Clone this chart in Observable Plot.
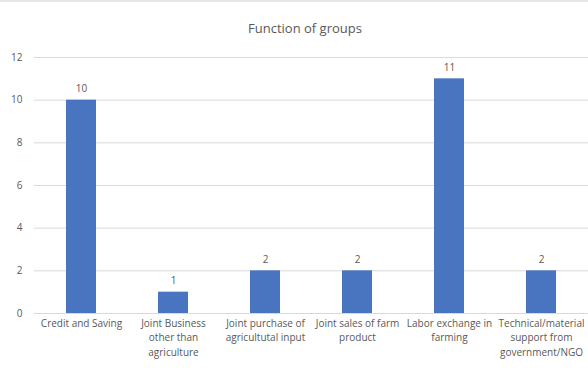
<!DOCTYPE html>
<html>
<head>
<meta charset="utf-8">
<script src="https://cdn.jsdelivr.net/npm/d3@7"></script>
<script src="https://cdn.jsdelivr.net/npm/@observablehq/plot@0.6"></script>
<style>
  html, body { margin: 0; padding: 0; background: #fff; }
  #wrap { width: 588px; height: 378px; position: relative; border-top: 2px solid #e6e6e6; box-sizing: border-box; }
  #title { height: 43px; line-height: 52px; text-align: center; padding-left: 22px;
           font-family: "Open Sans", sans-serif; font-size: 13px; color: #595959; }
  svg { display: block; }
</style>
</head>
<body>
<div id="wrap">
  <div id="title">Function of groups</div>
  <div id="chart"></div>
</div>
<script>
// Functions performed by the groups and how many groups perform each
const functions = [
  "Credit and Saving",
  "Joint Business\nother than\nagriculture",
  "Joint purchase of\nagricultutal input",
  "Joint sales of farm\nproduct",
  "Labor exchange in\nfarming",
  "Technical/material\nsupport from\ngovernment/NGO"
];
const counts = [10, 1, 2, 2, 11, 2];
const yTicks = [0, 2, 4, 6, 8, 10, 12];

const data = functions.map((f, i) => ({ name: f, value: counts[i] }));
const font = "'Open Sans', sans-serif";

const chart = Plot.plot({
  width: 588,
  height: 333,
  marginTop: 12,
  marginLeft: 34,
  marginRight: 0,
  marginBottom: 65,
  style: { fontFamily: font, fontSize: "10px", color: "#595959", background: "#fff" },
  x: { domain: functions, paddingInner: 0.675, paddingOuter: 0.34, label: null },
  y: { domain: [0, 12], ticks: yTicks, label: null },
  marks: [
    Plot.ruleY(yTicks, { stroke: "#d9d9d9", strokeWidth: 1 }),
    Plot.barY(data, { x: "name", y: "value", fill: "#4874c0" }),
    Plot.text(data, { x: "name", y: "value", text: d => String(d.value), dy: -11, fill: "#595959", fontSize: 10 }),
    Plot.axisY(yTicks, { tickSize: 0, tickPadding: 12, fill: "#595959", fontSize: 10 }),
    Plot.axisX({ tickSize: 0, tickPadding: 3, lineHeight: 1.45, fill: "#595959", fontSize: 10 })
  ]
});
document.getElementById("chart").appendChild(chart);
</script>
</body>
</html>
